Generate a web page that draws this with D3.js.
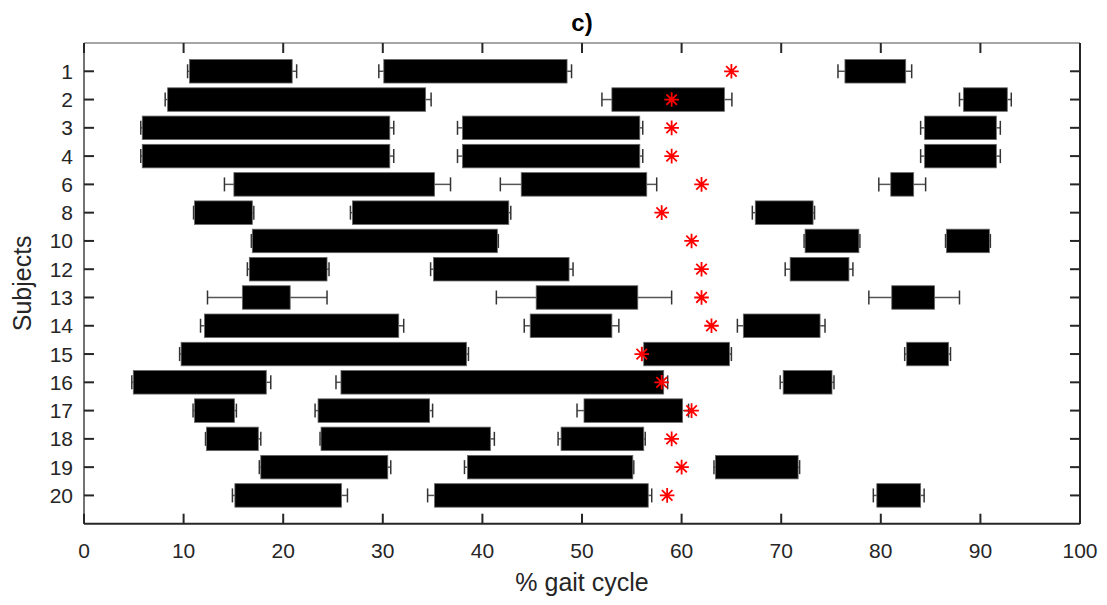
<!DOCTYPE html>
<html>
<head>
<meta charset="utf-8">
<script src="https://cdn.jsdelivr.net/npm/d3@7"></script>
<style>
  body { margin: 0; background: #fff; }
  text { font-family: "Liberation Sans", Arial, sans-serif; fill: #262626; }
</style>
</head>
<body>
<svg></svg>
<script>
var subjects = ["1","2","3","4","6","8","10","12","13","14","15","16","17","18","19","20"];

/* three phases per subject: start, end (% gait cycle) */
var starts = [
  [10.6, 30.1, 76.4], [8.4, 53.0, 88.3], [5.85, 38.0, 84.4], [5.85, 38.0, 84.4],
  [15.05, 43.9, 81.0], [11.1, 26.95, 67.4], [16.9, 72.4, 86.6], [16.6, 35.1, 70.9],
  [15.9, 45.4, 81.1], [12.1, 44.8, 66.2], [9.75, 56.2, 82.6], [4.95, 25.8, 70.2],
  [11.1, 23.5, 50.2], [12.3, 23.8, 47.9], [17.75, 38.5, 63.4], [15.15, 35.2, 79.6]
];
var ends = [
  [20.9, 48.5, 82.5], [34.3, 64.3, 92.7], [30.7, 55.8, 91.6], [30.7, 55.8, 91.6],
  [35.2, 56.5, 83.3], [16.9, 42.65, 73.2], [41.5, 77.8, 90.9], [24.4, 48.7, 76.8],
  [20.7, 55.6, 85.4], [31.6, 53.0, 73.9], [38.4, 64.8, 86.8], [18.3, 58.2, 75.1],
  [15.1, 34.7, 60.1], [17.5, 40.8, 56.2], [30.5, 55.1, 71.7], [25.85, 56.65, 84.0]
];
var startSD = [
  [0.2, 0.5, 0.7], [0.25, 1.0, 0.4], [0.15, 0.5, 0.4], [0.15, 0.5, 0.4],
  [0.95, 2.1, 1.2], [0.1, 0.2, 0.3], [0.1, 0.1, 0.1], [0.2, 0.3, 0.5],
  [3.5, 4.0, 2.3], [0.4, 0.6, 0.6], [0.15, 0.2, 0.2], [0.15, 0.5, 0.3],
  [0.15, 0.3, 0.7], [0.1, 0.1, 0.3], [0.15, 0.3, 0.15], [0.25, 0.7, 0.35]
];
var endSD = [
  [0.45, 0.45, 0.6], [0.55, 0.75, 0.4], [0.4, 0.3, 0.4], [0.4, 0.3, 0.4],
  [1.6, 1.0, 1.2], [0.15, 0.2, 0.15], [0.1, 0.1, 0.1], [0.2, 0.4, 0.4],
  [3.7, 3.4, 2.5], [0.5, 0.7, 0.5], [0.2, 0.2, 0.2], [0.45, 0.4, 0.2],
  [0.2, 0.3, 0.6], [0.25, 0.4, 0.15], [0.3, 0.1, 0.15], [0.6, 0.35, 0.35]
];
var toeOff = [65, 59, 59, 59, 62, 58, 61, 62, 62, 63, 56, 58, 61, 59, 60, 58.55];
var xTicks = [0, 10, 20, 30, 40, 50, 60, 70, 80, 90, 100];

var drawChart = function()
{
  var width = 1107;
  var height = 605;
  var left = 84, right = 1080, top = 43, bottom = 523.7;
  var barHeight = 23.5;
  var capHeight = 14;

  var svg = d3.select("svg")
              .attr("width", width)
              .attr("height", height);

  var x = d3.scaleLinear().domain([0, 100]).range([left, right]);
  var y = d3.scaleLinear().domain([0, subjects.length + 1]).range([top, bottom]);

  /* flatten phases into one list */
  var phases = [];
  subjects.forEach(function(s, i)
  {
    for (var k = 0; k < 3; k++)
    {
      phases.push({row: i + 1, start: starts[i][k], end: ends[i][k],
                   sdL: startSD[i][k], sdR: endSD[i][k]});
    }
  });

  /* error bars (drawn below the bars) */
  var err = svg.append("g");
  phases.forEach(function(d)
  {
    var cy = y(d.row);
    [[d.start - d.sdL, d.start], [d.end + d.sdR, d.end]].forEach(function(p)
    {
      err.append("line")
         .attr("x1", x(p[0])).attr("x2", x(p[1]))
         .attr("y1", cy).attr("y2", cy)
         .attr("stroke", "#555")
         .attr("stroke-width", 1.5);
      err.append("line")
         .attr("x1", x(p[0])).attr("x2", x(p[0]))
         .attr("y1", cy - capHeight/2).attr("y2", cy + capHeight/2)
         .attr("stroke", "#333")
         .attr("stroke-width", 1.5);
    });
  });

  svg.append("g")
     .selectAll("rect")
     .data(phases)
     .enter()
     .append("rect")
     .attr("x", function(d) { return x(d.start); })
     .attr("y", function(d) { return y(d.row) - barHeight/2; })
     .attr("width", function(d) { return x(d.end) - x(d.start); })
     .attr("height", barHeight)
     .attr("fill", "black")
     .attr("stroke", "#666")
     .attr("stroke-width", 0.8);

  /* red asterisks */
  var r = 7.3, rd = r * 0.72;
  var star = "M" + (-r) + ",0L" + r + ",0M0," + (-r) + "L0," + r +
             "M" + (-rd) + "," + (-rd) + "L" + rd + "," + rd +
             "M" + (-rd) + "," + rd + "L" + rd + "," + (-rd);
  svg.append("g")
     .selectAll("path")
     .data(toeOff)
     .enter()
     .append("path")
     .attr("d", star)
     .attr("transform", function(d, i)
     {
       return "translate(" + x(d) + "," + y(i + 1) + ")";
     })
     .attr("fill", "none")
     .attr("stroke", "#ff0000")
     .attr("stroke-width", 1.8);

  /* axes box */
  svg.append("line").attr("x1", left).attr("x2", right).attr("y1", top).attr("y2", top)
     .attr("stroke", "#888").attr("stroke-width", 1.5);
  svg.append("line").attr("x1", left).attr("x2", left).attr("y1", top).attr("y2", bottom)
     .attr("stroke", "#444").attr("stroke-width", 1.5);
  svg.append("line").attr("x1", left).attr("x2", right).attr("y1", bottom).attr("y2", bottom)
     .attr("stroke", "#262626").attr("stroke-width", 2);
  svg.append("line").attr("x1", right).attr("x2", right).attr("y1", top).attr("y2", bottom)
     .attr("stroke", "#262626").attr("stroke-width", 2);

  var ticks = svg.append("g").attr("stroke", "#262626").attr("stroke-width", 2);
  xTicks.forEach(function(t)
  {
    ticks.append("line").attr("x1", x(t)).attr("x2", x(t)).attr("y1", bottom).attr("y2", bottom - 10);
    ticks.append("line").attr("x1", x(t)).attr("x2", x(t)).attr("y1", top).attr("y2", top + 10);
  });
  subjects.forEach(function(s, i)
  {
    ticks.append("line").attr("x1", left).attr("x2", left + 10).attr("y1", y(i + 1)).attr("y2", y(i + 1));
    ticks.append("line").attr("x1", right).attr("x2", right - 10).attr("y1", y(i + 1)).attr("y2", y(i + 1));
  });

  svg.append("g")
     .selectAll("text")
     .data(xTicks)
     .enter()
     .append("text")
     .text(function(d) { return d; })
     .attr("x", function(d) { return x(d); })
     .attr("y", 558)
     .style("font-size", "21px")
     .style("text-anchor", "middle");

  svg.append("g")
     .selectAll("text")
     .data(subjects)
     .enter()
     .append("text")
     .text(function(d) { return d; })
     .attr("x", 73)
     .attr("y", function(d, i) { return y(i + 1) + 7.5; })
     .style("font-size", "21px")
     .style("text-anchor", "end");

  svg.append("text")
     .text("% gait cycle")
     .attr("x", (left + right)/2)
     .attr("y", 591)
     .style("font-size", "25px")
     .style("text-anchor", "middle");

  svg.append("text")
     .text("Subjects")
     .attr("transform", "translate(31," + (top + bottom)/2 + ") rotate(-90)")
     .style("font-size", "25px")
     .style("text-anchor", "middle");

  svg.append("text")
     .text("c)")
     .attr("x", (left + right)/2)
     .attr("y", 31)
     .style("font-size", "24px")
     .style("font-weight", "bold")
     .style("fill", "#000")
     .style("text-anchor", "middle");
}

drawChart();
</script>
</body>
</html>
